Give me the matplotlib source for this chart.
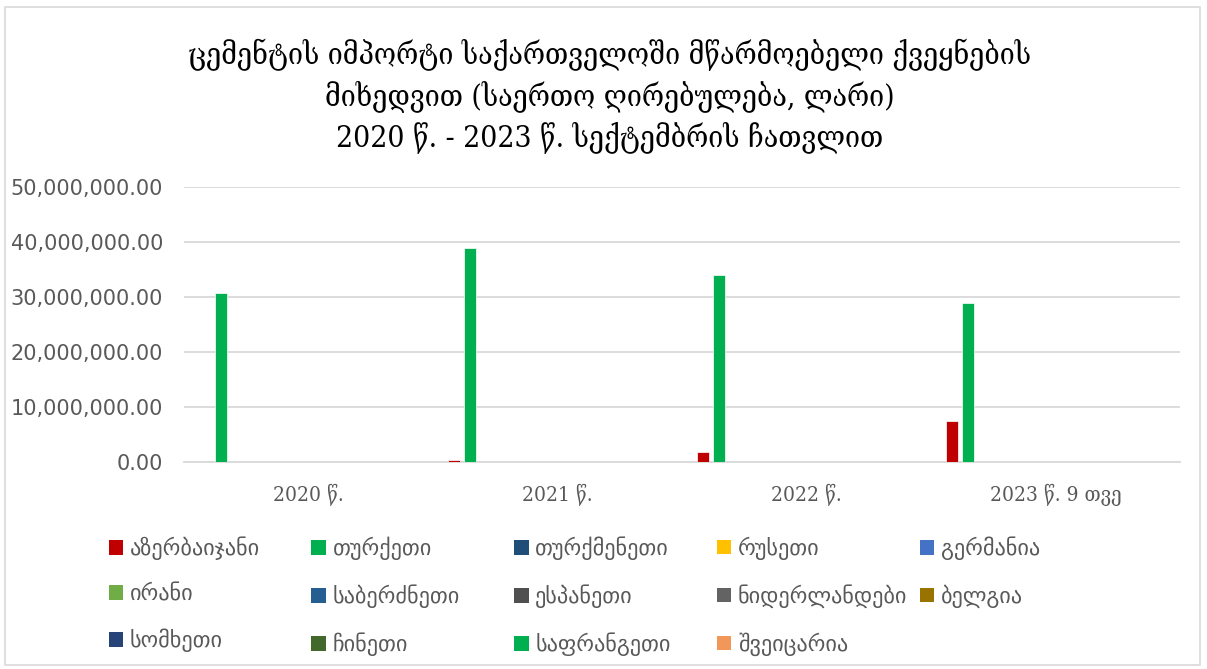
import numpy as np
import matplotlib
matplotlib.use("Agg")
import matplotlib.pyplot as plt
from matplotlib.patches import Rectangle, Patch
from matplotlib.ticker import FuncFormatter

years = ['2020 წ.', '2021 წ.', '2022 წ.', '2023 წ. 9 თვე']

countries = ['აზერბაიჯანი', 'თურქეთი', 'თურქმენეთი', 'რუსეთი', 'გერმანია',
             'ირანი', 'საბერძნეთი', 'ესპანეთი', 'ნიდერლანდები', 'ბელგია',
             'სომხეთი', 'ჩინეთი', 'საფრანგეთი', 'შვეიცარია']

colors = ['#C00000', '#00B050', '#1F4E79', '#FFC000', '#4472C4',
          '#70AD47', '#255E91', '#505050', '#636363', '#997300',
          '#264478', '#43682B', '#00B050', '#F1975A']

# values in lari, per country, per year
azerbaijan = [0, 360000, 1820000, 7480000]
turkey = [30670000, 38900000, 33980000, 28900000]
turkmenistan = [0, 0, 0, 0]
russia = [0, 0, 50000, 0]
germany = [0, 0, 0, 0]
iran = [0, 0, 50000, 0]
greece = [0, 0, 0, 0]
spain = [0, 0, 0, 0]
netherlands = [0, 0, 0, 0]
belgium = [0, 0, 0, 0]
armenia = [0, 0, 0, 0]
china = [0, 0, 0, 0]
france = [0, 0, 0, 0]
switzerland = [0, 0, 0, 0]

series = [azerbaijan, turkey, turkmenistan, russia, germany, iran, greece,
          spain, netherlands, belgium, armenia, china, france, switzerland]

serif = ['DejaVu Serif', 'DejaVu Sans']
sans = ['DejaVu Sans']

fig = plt.figure(figsize=(12.07, 6.69), dpi=100)
fig.patches.append(Rectangle((0.004, 0.006), 0.99, 0.984, transform=fig.transFigure,
                             fill=False, edgecolor='#D9D9D9', linewidth=1.2))

ax = fig.add_axes([0.1524, 0.3094, 0.8252, 0.4108])

x = np.arange(len(years))
slot = 0.0637
width = 0.048
n = len(series)
for i, vals in enumerate(series):
    ax.bar(x + (i - (n - 1) / 2) * slot, vals, width, color=colors[i],
           edgecolor='white', linewidth=0.5, label=countries[i], zorder=3)

ax.set_xlim(-0.5, len(years) - 0.5)
ax.set_ylim(0, 50000000)
ax.set_yticks(np.arange(0, 50000001, 10000000))
ax.yaxis.set_major_formatter(FuncFormatter(lambda v, p: '{:,.2f}'.format(v)))
ax.grid(axis='y', color='#D9D9D9', linewidth=1.3, zorder=0)
for s in ['top', 'right', 'left']:
    ax.spines[s].set_visible(False)
ax.spines['bottom'].set_color('#D9D9D9')
ax.spines['bottom'].set_linewidth(1.3)
ax.tick_params(axis='both', length=0, colors='#595959')
ax.tick_params(axis='y', labelsize=15, pad=15)
ax.set_xticks(x)
ax.set_xticklabels(years, family=serif, fontstretch='condensed', fontsize=15)
ax.tick_params(axis='x', pad=16)

fig.text(0.505, 0.857, 'ცემენტის იმპორტი საქართველოში მწარმოებელი ქვეყნების\n'
         'მიხედვით (საერთო ღირებულება, ლარი)\n'
         '2020 წ. - 2023 წ. სექტემბრის ჩათვლით',
         ha='center', va='center', fontsize=21.5, family=serif,
         fontstretch='condensed', linespacing=1.35, color='black')

# legend: 5 equal-width columns, filled row by row as in the original
ncol = 5
col_x = [0.090 + c * 0.168 for c in range(ncol)]
for c in range(ncol):
    idx = list(range(c, n, ncol))
    handles = [Patch(facecolor=colors[i], label=countries[i]) for i in idx]
    fig.legend(handles=handles, loc='upper left', bbox_to_anchor=(col_x[c], 0.198),
               frameon=False, handlelength=0.65, handleheight=0.65,
               handletextpad=0.3, labelspacing=1.1, borderpad=0,
               borderaxespad=0, labelcolor='#595959',
               prop={'family': sans, 'size': 16})

fig.savefig('out.png', dpi=100)
